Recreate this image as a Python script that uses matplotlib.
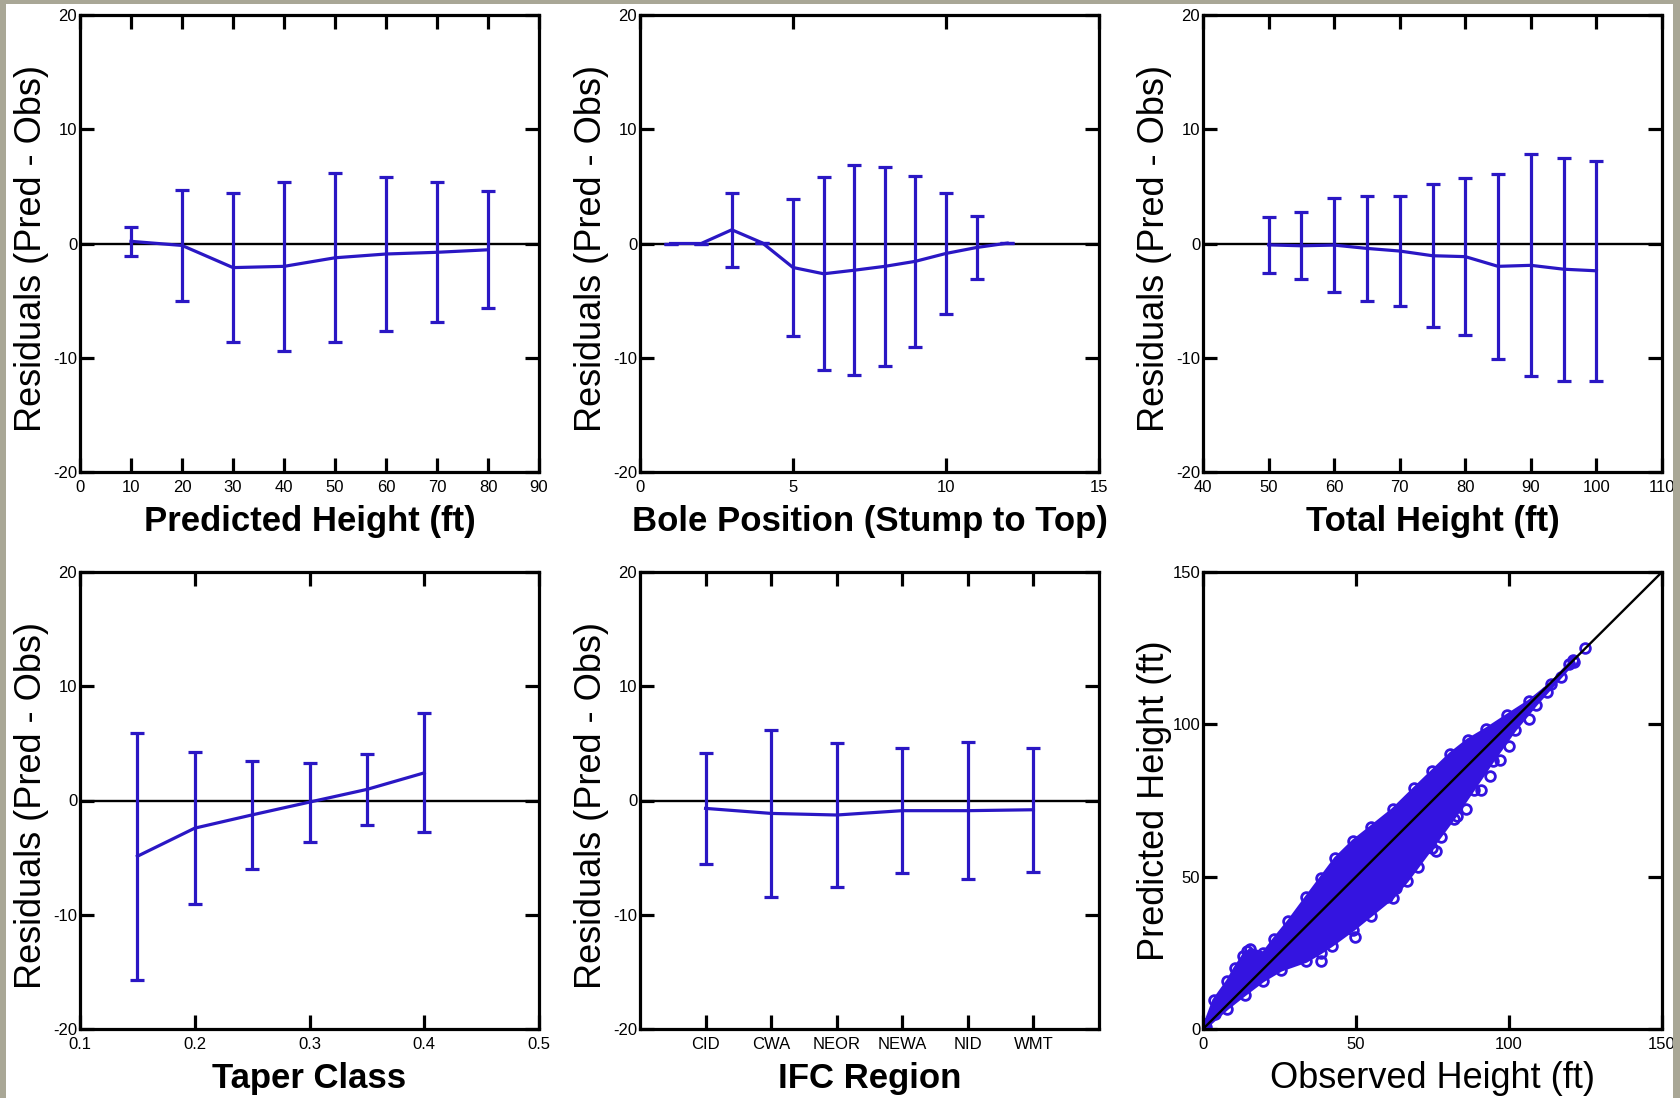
import matplotlib
matplotlib.use("Agg")
import matplotlib.pyplot as plt
from matplotlib.patches import Rectangle

plt.rcParams['font.family'] = ['Liberation Sans', 'DejaVu Sans']
plt.rcParams['axes.unicode_minus'] = False

BLUE = "#2a17c4"
SCATTER_BLUE = "#3414e0"
BORDER = "#a9a796"

# --- Data ---
# Predicted height classes
pred_ht = [10, 20, 30, 40, 50, 60, 70, 80]
pred_ht_mean = [0.19, -0.17, -2.11, -2.00, -1.25, -0.92, -0.77, -0.55]
pred_ht_sd = [1.25, 4.82, 6.51, 7.42, 7.40, 6.73, 6.12, 5.11]

# Bole position, stump to top
bole_pos = [1, 2, 3, 4, 5, 6, 7, 8, 9, 10, 11, 12]
bole_mean = [0.0, 0.0, 1.20, 0.05, -2.10, -2.65, -2.34, -2.00, -1.56, -0.87, -0.35, 0.03]
bole_sd = [0, 0, 3.25, 0, 6.00, 8.46, 9.19, 8.70, 7.46, 5.33, 2.80, 0]

# Total height classes
tot_ht = [50, 55, 60, 65, 70, 75, 80, 85, 90, 95, 100]
tot_ht_mean = [-0.12, -0.20, -0.14, -0.43, -0.66, -1.07, -1.15, -2.00, -1.91, -2.25, -2.39]
tot_ht_sd = [2.42, 2.95, 4.08, 4.62, 4.85, 6.27, 6.90, 8.12, 9.71, 9.77, 9.63]

# Taper class
taper = [0.15, 0.20, 0.25, 0.30, 0.35, 0.40]
taper_mean = [-4.88, -2.42, -1.26, -0.14, 0.97, 2.42]
taper_sd = [10.83, 6.63, 4.73, 3.45, 3.12, 5.21]

# IFC region
regions = ["CID", "CWA", "NEOR", "NEWA", "NID", "WMT"]
region_mean = [-0.69, -1.13, -1.27, -0.89, -0.89, -0.81]
region_sd = [4.88, 7.29, 6.29, 5.48, 5.97, 5.41]

# Observed vs predicted: outline of the point cloud + stray points
upper_obs = [0.5, 3.5, 8.0, 10.3, 13.0, 15.5, 19.7, 23.2, 27.9, 33.8, 38.5, 43.2,
             49.1, 54.9, 62.0, 69.0, 74.9, 80.8, 86.6, 92.5, 99.5, 106.6, 113.6, 119.5, 121.0]
upper_pred = [1.5, 9.5, 15.8, 19.9, 24.0, 26.2, 25.0, 29.6, 35.4, 43.4, 49.7, 56.0,
              61.8, 66.4, 72.1, 79.0, 84.7, 90.4, 95.0, 98.5, 103.1, 107.7, 113.4, 119.8, 121.0]
lower_obs = [1.0, 8.0, 13.8, 19.7, 25.6, 33.8, 38.5, 42.0, 49.1, 54.9, 62.0, 66.7, 74.9, 81.9,
             88.4, 94.8, 101.9, 108.9, 117.1, 121.2]
lower_pred = [0.5, 6.7, 11.3, 15.8, 19.3, 22.2, 25.0, 27.3, 32.5, 37.2, 43.0, 48.5, 59.5, 69.0,
              78.5, 88.0, 98.0, 106.5, 115.7, 120.3]
stray_obs = [124.8, 112.4, 106.6, 100.1, 97.2, 93.7, 90.7, 86.0, 83.1, 77.8, 76.1,
             70.2, 63.1, 60.2, 49.6, 38.5, 14.4, 3.9, 0.4]
stray_pred = [125.1, 110.5, 101.7, 92.8, 88.2, 83.0, 78.4, 72.3, 69.8, 62.9, 58.3,
              53.2, 46.3, 43.4, 30.2, 22.2, 25.6, 4.9, 1.5]

# --- Layout ---
fig = plt.figure(figsize=(16.8, 10.98), dpi=100)
fig.patch.set_facecolor("white")

col_left = [80, 640, 1203]
row_top = [15, 572]
W, H = 459, 457


def make_ax(r, c):
    left = col_left[c] / 1680
    bottom = 1 - (row_top[r] + H) / 1098
    ax = fig.add_axes([left, bottom, W / 1680, H / 1098])
    for sp in ax.spines.values():
        sp.set_linewidth(2.3)
    ax.tick_params(direction="in", length=10, width=2.3, top=True, right=True,
                   labelsize=12, colors="black")
    ax.tick_params(axis="y", pad=2)
    ax.tick_params(axis="x", pad=6)
    return ax


def residual_panel(ax, x, mean, sd, xlabel):
    ax.axhline(0, color="black", lw=1.7, zorder=1)
    ax.errorbar(x, mean, yerr=sd, color=BLUE, lw=2.3, elinewidth=2.3,
                capsize=5, capthick=2.3, zorder=2)
    ax.set_ylim(-20, 20)
    ax.set_yticks([-20, -10, 0, 10, 20])
    ax.set_ylabel("Residuals (Pred - Obs)", fontsize=26, va="center")
    ax.yaxis.set_label_coords(-0.105, 0.49)
    ax.set_xlabel(xlabel, fontsize=25, fontweight="bold", va="center")
    ax.xaxis.set_label_coords(0.5, -0.108)


ax1 = make_ax(0, 0)
residual_panel(ax1, pred_ht, pred_ht_mean, pred_ht_sd, "Predicted Height (ft)")
ax1.set_xlim(0, 90)
ax1.set_xticks(range(0, 91, 10))

ax2 = make_ax(0, 1)
residual_panel(ax2, bole_pos, bole_mean, bole_sd, "Bole Position (Stump to Top)")
ax2.set_xlim(0, 15)
ax2.set_xticks([0, 5, 10, 15])

ax3 = make_ax(0, 2)
residual_panel(ax3, tot_ht, tot_ht_mean, tot_ht_sd, "Total Height (ft)")
ax3.set_xlim(40, 110)
ax3.set_xticks(range(40, 111, 10))

ax4 = make_ax(1, 0)
residual_panel(ax4, taper, taper_mean, taper_sd, "Taper Class")
ax4.set_xlim(0.1, 0.5)
ax4.set_xticks([0.1, 0.2, 0.3, 0.4, 0.5])

ax5 = make_ax(1, 1)
region_x = list(range(1, len(regions) + 1))
residual_panel(ax5, region_x, region_mean, region_sd, "IFC Region")
ax5.set_xlim(0, len(regions) + 1)
ax5.set_xticks(region_x)
ax5.set_xticklabels(regions)

# Observed vs predicted
ax6 = make_ax(1, 2)
poly_x = upper_obs + lower_obs[::-1]
poly_y = upper_pred + lower_pred[::-1]
ax6.fill(poly_x, poly_y, color=SCATTER_BLUE, lw=2, ec=SCATTER_BLUE, zorder=1)
for xs, ys in [(upper_obs, upper_pred), (lower_obs, lower_pred), (stray_obs, stray_pred)]:
    ax6.plot(xs, ys, "o", mfc="none", mec=SCATTER_BLUE, ms=7, mew=2.0, zorder=2)
ax6.plot([0, 150], [0, 150], color="black", lw=1.7, zorder=3)
ax6.set_xlim(0, 150)
ax6.set_ylim(0, 150)
ax6.set_xticks([0, 50, 100, 150])
ax6.set_yticks([0, 50, 100, 150])
ax6.set_ylabel("Predicted Height (ft)", fontsize=26, va="center")
ax6.yaxis.set_label_coords(-0.105, 0.5)
ax6.set_xlabel("Observed Height (ft)", fontsize=26, va="center")
ax6.xaxis.set_label_coords(0.5, -0.108)

# gray slide border
for rect in [(0, 0, 6 / 1680, 1), (0, 1 - 4 / 1098, 1, 4 / 1098),
             (1673 / 1680, 0, 7 / 1680, 1)]:
    fig.add_artist(Rectangle(rect[:2], rect[2], rect[3], transform=fig.transFigure,
                             facecolor=BORDER, edgecolor="none", zorder=10))

fig.savefig("out.png", dpi=100)
